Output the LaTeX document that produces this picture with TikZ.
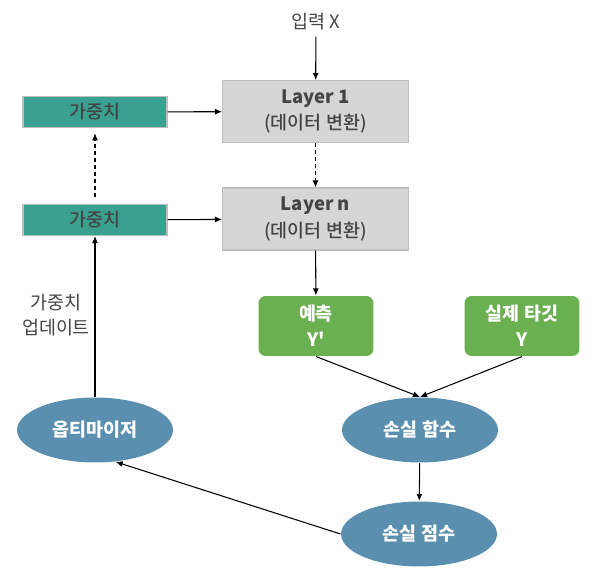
\documentclass[tikz,border=0pt]{standalone}
\usepackage{fontspec}
\setmainfont{Noto Sans CJK KR}[Ligatures=TeXOff]
\newfontfamily\medfont{Noto Sans CJK KR Medium}[Ligatures=TeXOff]
\usepackage{tikz}
\usetikzlibrary{arrows.meta,shapes.geometric}

\definecolor{wgtteal}{HTML}{3AA08F}
\definecolor{laygray}{HTML}{D6D6D6}
\definecolor{layedge}{HTML}{BEBEBE}
\definecolor{predgreen}{HTML}{6AAF50}
\definecolor{lossblue}{HTML}{5A8FAF}
\definecolor{txtgray}{HTML}{444444}

\begin{document}
\begin{tikzpicture}[x=0.02cm,y=-0.02cm,
    font=\fontsize{10.5}{14}\selectfont,
    >={Latex[length=4pt,width=3.4pt]},
    every path/.style={line width=0.6pt},
    layerbox/.style={draw=layedge,fill=laygray,text=txtgray,align=center,
      font=\fontsize{10.5}{15}\selectfont\medfont,
      minimum width=3.72cm,minimum height=1.24cm,inner sep=0pt},
    wbox/.style={draw=layedge,fill=wgtteal,text=txtgray,font=\fontsize{10.5}{14}\selectfont\medfont,
      minimum width=2.88cm,minimum height=0.62cm,inner sep=0pt},
    ybox/.style={fill=predgreen,text=white,font=\fontsize{10.5}{15}\selectfont\bfseries,
      rounded corners=4pt,align=center,minimum width=2.3cm,minimum height=1.2cm,inner sep=0pt},
    lossell/.style={ellipse,fill=lossblue,text=white,font=\fontsize{10.5}{14}\selectfont\bfseries,
      minimum width=3.12cm,minimum height=1.3cm,inner sep=0pt},
    dashline/.style={dash pattern=on 2.2pt off 1.8pt}]
  \useasboundingbox (0,0) rectangle (600,575);
  % layers in the middle column
  \node[text=txtgray] (inX) at (316,22) {입력 X};
  \node[layerbox] (L1) at (315.5,111.5) {\textbf{Layer 1}\\(데이터 변환)};
  \node[layerbox] (Ln) at (315.5,219) {\textbf{Layer n}\\(데이터 변환)};
  % weights on the left
  \node[wbox] (W1) at (95,112) {가중치};
  \node[wbox] (W2) at (95,220) {가중치};
  \node[text=txtgray,align=center] (upd) at (56,315) {가중치\\업데이트};
  % outputs and loss
  \node[ybox] (pred) at (316,326) {예측\\Y'};
  \node[ybox] (targ) at (522,326) {실제 타깃\\Y};
  \node[lossell] (lossf) at (420,430) {손실 함수};
  \node[lossell] (score) at (419,534) {손실 점수};
  \node[lossell] (opt) at (95,430) {옵티마이저};

  \draw[->] (inX) -- (L1);
  \draw[->,dashline] (L1) -- (Ln);
  \draw[->] (W1) -- (L1);
  \draw[->] (W2) -- (Ln);
  \draw[->,dashline,shorten <=4pt,shorten >=3pt] (W2) -- (W1);
  \draw[->] (opt) -- (W2);
  \draw[->] (Ln) -- (pred);
  \draw[->] (pred.south) -- (lossf.north);
  \draw[->] (targ.south) -- (lossf.north);
  \draw[->] (lossf) -- (score);
  \draw[->] (score.west) -- (opt.-57);
\end{tikzpicture}
\end{document}
